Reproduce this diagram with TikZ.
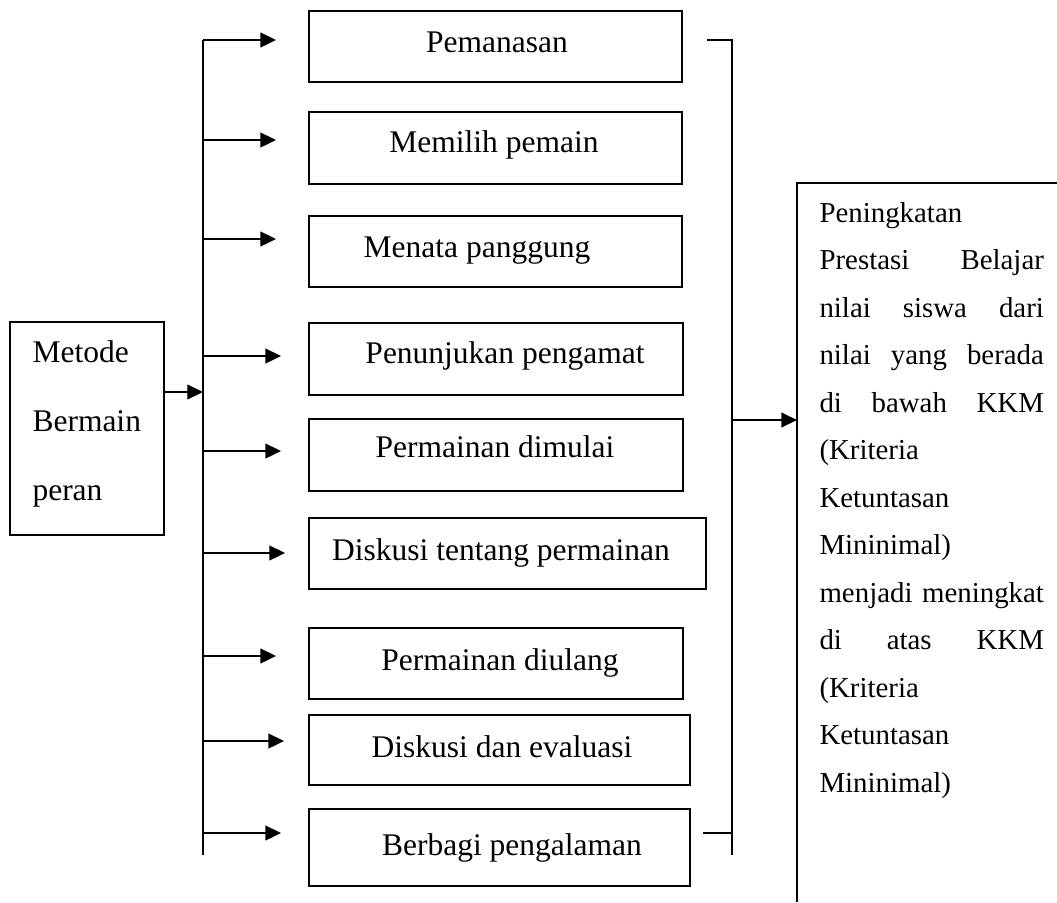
\documentclass[tikz,border=0pt]{standalone}
\usepackage{fontspec}
\setmainfont{Liberation Serif}
\usetikzlibrary{arrows.meta,positioning,calc}
\newcommand{\pxu}{0.381pt}

\tikzset{
  stepbox/.style={draw,line width=0.7pt,inner sep=0pt},
  steptxt/.style={anchor=base,inner sep=0pt},
  line/.style={line width=0.8pt},
  arr/.style={line width=0.8pt,-{Triangle[length=6pt,width=5.6pt]}}
}

\begin{document}
\begin{tikzpicture}[x=0.381pt,y=-0.381pt,font=\fontsize{12}{14.4}\selectfont]
  \useasboundingbox (0,0) rectangle (1057,902);

  % Left box
  \node[stepbox,minimum width=154*\pxu,minimum height=213*\pxu] (metode) at (87,428.5) {};
  \node[anchor=base west,inner sep=0pt,text width=50pt,align=left,
        font=\fontsize{12}{26.3}\selectfont] (metodeTxt) at (32,362) {Metode\\Bermain\\peran};

  % Bus line
  \coordinate (busT) at (203,40);
  \coordinate (busB) at (203,855);
  \draw[line] (busT) -- (busB);
  \draw[arr] (metode.east |- 0,392) -- (busT |- 0,392);

  % Steps (top, bottom, right edge, arrow y, arrow tip, text x, text baseline)
  \foreach \i/\t/\b/\r/\ay/\tip/\tx/\ty/\lbl in {
      1/11/82/682/40/277/497/52/Pemanasan,
      2/112/184/682/140/277/494/152/Memilih pemain,
      3/216/287/682/239/277/477/257/Menata panggung,
      4/323/395/683/356/282/505/363/Penunjukan pengamat,
      5/419/491/683/451/282/495/457/Permainan dimulai,
      6/518/589/706/553/286/501/560/Diskusi tentang permainan,
      7/628/699/683/656/277/500/670/Permainan diulang,
      8/715/785/690/741/285/502/757/Diskusi dan evaluasi,
      9/809/886/690/833/282/512/855/Berbagi pengalaman} {
    \node[stepbox,minimum width={(\r-309)*\pxu},minimum height={(\b-\t)*\pxu}]
      (box\i) at ({(309+\r)/2},{(\t+\b)/2}) {};
    \node[steptxt] (txt\i) at (\tx,\ty) {\lbl};
    \coordinate (bus\i) at (203,\ay);
    \pgfmathsetmacro\gap{(309-\tip)*0.381}
    \draw[arr,shorten >=\gap pt] (bus\i) -- (bus\i -| box\i.west);
  }

  % Bracket
  \coordinate (brT) at (732,40);
  \coordinate (brB) at (732,855);
  \coordinate (brTick1) at (707,40);
  \coordinate (brTick2) at (703,833);
  \draw[line] (brTick1) -- (brT) -- (brB);
  \draw[line] (brTick2) -- (brTick2 -| brT);

  % Result box (open to the right and bottom)
  \coordinate (resTL) at (797,183);
  \coordinate (resTR) at (1057,183);
  \coordinate (resBL) at (797,902);
  \draw[line] (resTR) -- (resTL) -- (resBL);
  \coordinate (brM) at (732,420);
  \draw[arr] (brM) -- (brM -| resTL);

  \node[anchor=base west,inner sep=0pt,text width=85.5pt,align=left,
        font=\fontsize{11}{18.1}\selectfont] (hasil) at (819,222) {%
    Peningkatan\\
    Prestasi\hfill Belajar\\
    nilai\hfill siswa\hfill dari\\
    nilai\hfill yang\hfill berada\\
    di\hfill bawah\hfill KKM\\
    (Kriteria\\
    Ketuntasan\\
    Mininimal)\\
    menjadi\hfill meningkat\\
    di\hfill atas\hfill KKM\\
    (Kriteria\\
    Ketuntasan\\
    Mininimal)};
\end{tikzpicture}
\end{document}
